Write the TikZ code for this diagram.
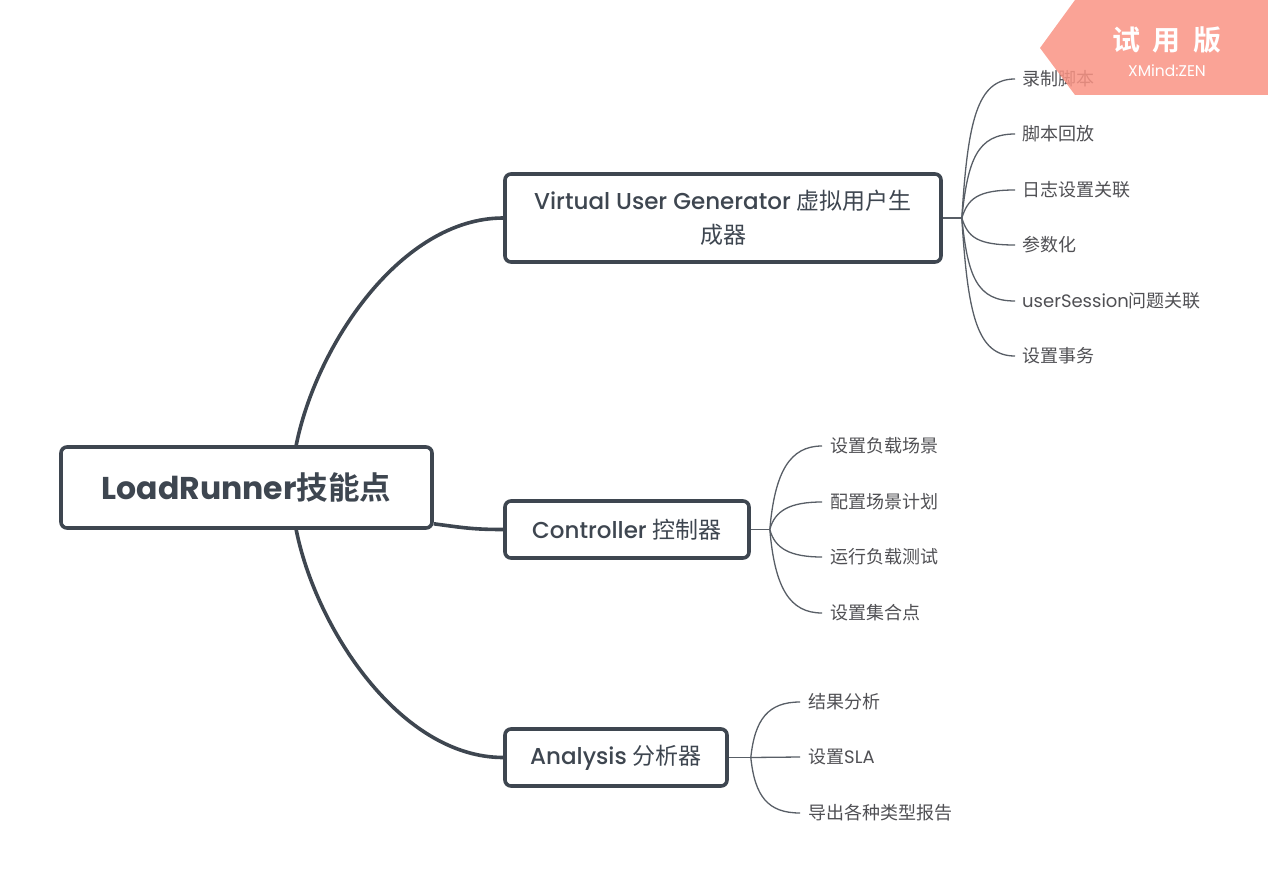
\documentclass[tikz,border=0pt]{standalone}
\usepackage{fontspec}
\setmainfont{Poppins}
\newfontfamily\popmed{Poppins Medium}
\newfontfamily\cjk{Noto Sans CJK SC}[BoldFont={Noto Sans CJK SC Bold}]
\newcommand{\zh}[1]{{\cjk #1}}
\definecolor{ink}{RGB}{62,70,80}
\definecolor{leaftext}{RGB}{80,80,84}
\definecolor{thinline}{RGB}{88,94,102}
\definecolor{wmark}{RGB}{249,147,132}
\begin{document}
\begin{tikzpicture}[x=1pt,y=-1pt,
  topicbox/.style={draw=ink,line width=3.6pt,rounded corners=6pt,fill=white,
    text=ink,align=center,inner sep=0pt},
  mainline/.style={draw=ink,line width=3.6pt},
  leafline/.style={draw=thinline,line width=1.3pt},
  leaf/.style={anchor=west,text=leaftext,inner ysep=0pt,
    font=\fontsize{18}{22}\selectfont}]
\useasboundingbox (0,0) rectangle (1268,893);
% topics
\node[topicbox,minimum width=371pt,minimum height=81pt,
  font=\fontsize{31.5}{36}\selectfont\bfseries] (root) at (246.5,487.5)
  {LoadRunner\zh{技能点}};
\node[topicbox,minimum width=436pt,minimum height=88pt,
  font=\fontsize{23}{34}\selectfont\popmed] (vug) at (723,218)
  {Virtual User Generator \zh{虚拟用户生}\\\zh{成器}};
\node[topicbox,minimum width=244pt,minimum height=57pt,
  font=\fontsize{23}{28}\selectfont\popmed] (ctrl) at (627,529.5)
  {Controller \zh{控制器}};
\node[topicbox,minimum width=222pt,minimum height=57pt,
  font=\fontsize{23}{28}\selectfont\popmed] (ana) at (616,757.5)
  {Analysis \zh{分析器}};
% root connectors
\path (root.north west) ++(237,0) coordinate (rT);
\path (root.south west) ++(237,0) coordinate (rB);
\path (root.south east) ++(0,-6) coordinate (rR);
\draw[mainline] (rT) .. controls +(20,-100) and +(-102,0) .. (vug.west);
\draw[mainline] (rB) .. controls +(20,100) and +(-102,0) .. (ana.west);
\draw[mainline] (rR) .. controls +(30,4) and +(-30,0) .. (ctrl.west);
% VUG leaves
\node[leaf,inner xsep=7pt] (v1) at (1015,79) {\zh{录制脚本}};
\node[leaf,inner xsep=7pt] (v2) at (1015,134) {\zh{脚本回放}};
\node[leaf,inner xsep=7pt] (v3) at (1015,190) {\zh{日志设置关联}};
\node[leaf,inner xsep=7pt] (v4) at (1015,245) {\zh{参数化}};
\node[leaf,inner xsep=7pt] (v5) at (1015,301) {userSession\zh{问题关联}};
\node[leaf,inner xsep=7pt] (v6) at (1015,356) {\zh{设置事务}};
\draw[leafline] (vug.east) -- ++(19,0) coordinate (vf);
\foreach \n/\dy in {v1/-97,v2/-58,v3/-19,v4/19,v5/59,v6/97}
  \draw[leafline] (vf) .. controls +(6,\dy) and +(-38,0) .. (\n.west);
% Controller leaves
\node[leaf,inner xsep=8pt] (c1) at (822,446) {\zh{设置负载场景}};
\node[leaf,inner xsep=8pt] (c2) at (822,502) {\zh{配置场景计划}};
\node[leaf,inner xsep=8pt] (c3) at (822,557) {\zh{运行负载测试}};
\node[leaf,inner xsep=8pt] (c4) at (822,613) {\zh{设置集合点}};
\draw[leafline] (ctrl.east) -- ++(19,0) coordinate (cf);
\foreach \n/\dy in {c1/-58,c2/-19,c3/19,c4/59}
  \draw[leafline] (cf) .. controls +(5,\dy) and +(-32,0) .. (\n.west);
% Analysis leaves
\node[leaf,inner xsep=8pt] (a1) at (800,702) {\zh{结果分析}};
\node[leaf,inner xsep=8pt] (a2) at (800,757) {\zh{设置}SLA};
\node[leaf,inner xsep=8pt] (a3) at (800,813) {\zh{导出各种类型报告}};
\draw[leafline] (ana.east) -- ++(22,0) coordinate (af);
\foreach \n/\dy in {a1/-38,a3/39}
  \draw[leafline] (af) .. controls +(4,\dy) and +(-32,0) .. (\n.west);
\draw[leafline] (af) -- (a2.west);
% watermark
\fill[wmark,fill opacity=0.85] (1040,48) -- (1075,0) -- (1268,0) -- (1268,95) -- (1075,95) -- cycle;
\node[text=white,inner sep=0pt,font=\fontsize{28}{30}\selectfont\cjk\bfseries] (wm1) at (1167,40) {试\hspace{0.45em}用\hspace{0.45em}版};
\node[text=white,inner sep=0pt,font=\fontsize{15.5}{18}\selectfont] (wm2) at (1167,71) {XMind:ZEN};
\end{tikzpicture}
\end{document}
